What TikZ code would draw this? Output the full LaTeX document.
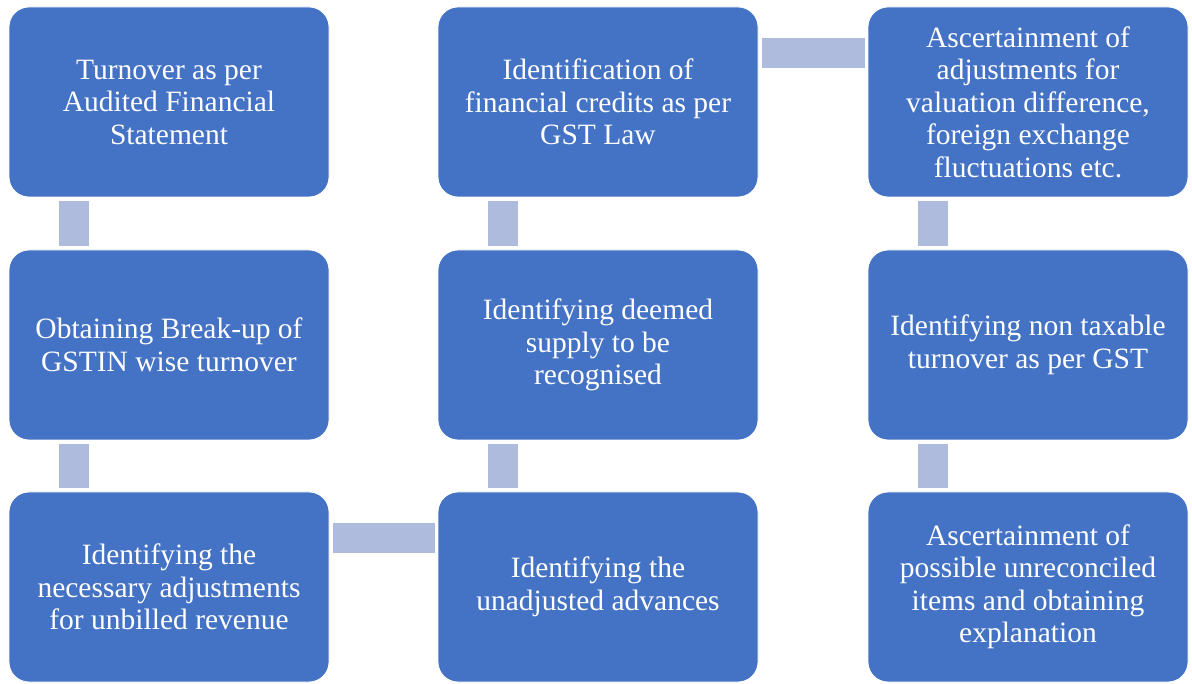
\documentclass[tikz,border=0pt]{standalone}
\usepackage{fontspec}
\setmainfont{Liberation Serif}
\usetikzlibrary{calc}
\definecolor{boxblue}{HTML}{4472C4}
\definecolor{connblue}{HTML}{AFBBDD}
\tikzset{
  stepbox/.style={rectangle, rounded corners=20pt, minimum width=320pt, minimum height=190pt,
    fill=boxblue, draw=white, line width=0.8pt, text=white, align=center, inner sep=0pt,
    font=\fontsize{29.5}{32.5}\selectfont},
  conn/.style={fill=connblue}
}
\begin{document}
\begin{tikzpicture}[x=1pt,y=-1pt]
\useasboundingbox (0,0) rectangle (1192,684);
\node[stepbox] (a) at (169,102) {Turnover as per\\Audited Financial\\Statement};
\node[stepbox] (b) at (169,345) {Obtaining Break-up of\\GSTIN wise turnover};
\node[stepbox] (c) at (169,587) {Identifying the\\necessary adjustments\\for unbilled revenue};
\node[stepbox] (d) at (598,587) {Identifying the\\unadjusted advances};
\node[stepbox] (e) at (598,345) {Identifying deemed\\supply to be\\recognised};
\node[stepbox] (f) at (598,102) {Identification of\\financial credits as per\\GST Law};
\node[stepbox] (g) at (1028,102) {Ascertainment of\\adjustments for\\valuation difference,\\foreign exchange\\fluctuations etc.};
\node[stepbox] (h) at (1028,345) {Identifying non taxable\\turnover as per GST};
\node[stepbox] (i) at (1028,587) {Ascertainment of\\possible unreconciled\\items and obtaining\\explanation};
% vertical connectors
\fill[conn] ($(a.south west)+(50,4)$) rectangle ($(b.north west)+(80,-4)$);
\fill[conn] ($(b.south west)+(50,4)$) rectangle ($(c.north west)+(80,-4)$);
\fill[conn] ($(e.south west)+(50,4)$) rectangle ($(d.north west)+(80,-4)$);
\fill[conn] ($(f.south west)+(50,4)$) rectangle ($(e.north west)+(80,-4)$);
\fill[conn] ($(g.south west)+(50,4)$) rectangle ($(h.north west)+(80,-4)$);
\fill[conn] ($(h.south west)+(50,4)$) rectangle ($(i.north west)+(80,-4)$);
% horizontal connectors
\fill[conn] ($(c.north east)+(4,31)$) rectangle ($(d.north west)+(-3,61)$);
\fill[conn] ($(f.north east)+(4,31)$) rectangle ($(g.north west)+(-3,61)$);
\end{tikzpicture}
\end{document}
